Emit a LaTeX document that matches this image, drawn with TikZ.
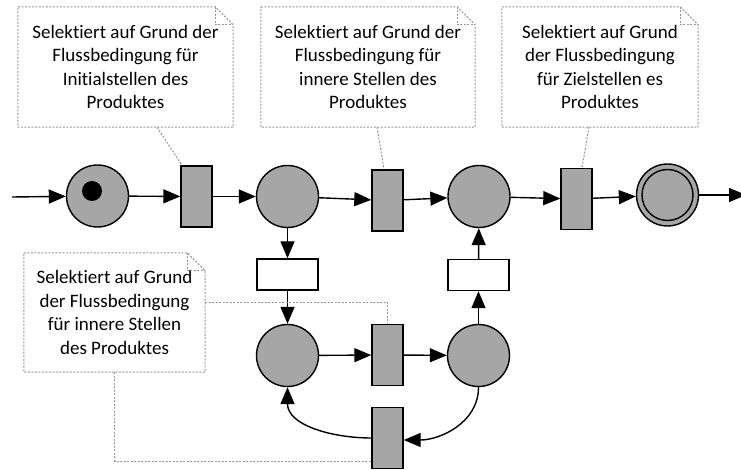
\documentclass[tikz,border=0pt]{standalone}
\usepackage{fontspec}
\setmainfont[Ligatures={NoCommon,NoContextual}]{Carlito}
\usetikzlibrary{arrows.meta}
\definecolor{pgray}{HTML}{A6A6A6}
\definecolor{ngray}{HTML}{969696}
\tikzset{
 place/.style={circle, draw=black, fill=pgray, line width=1.4pt, minimum size=62pt, inner sep=0pt},
 innerring/.style={circle, draw=black, line width=1.4pt, minimum size=51pt, inner sep=0pt},
 trans/.style={rectangle, draw=black, fill=pgray, line width=1.4pt, minimum width=31pt, minimum height=61pt, inner sep=0pt},
 wtrans/.style={rectangle, draw=black, fill=white, line width=1.4pt, minimum width=61pt, minimum height=31pt, inner sep=0pt},
 token/.style={circle, fill=black, minimum size=20pt, inner sep=0pt},
 arr/.style={line width=1.4pt, -{Triangle[length=17pt,width=14pt]}},
 notebox/.style={rectangle, draw=none, inner sep=0pt, align=center, font=\fontsize{19}{23.5}\selectfont},
 noteline/.style={draw=ngray, line width=1pt, dash pattern=on 2pt off 1.5pt},
}
\newcommand{\drawnoteshape}[1]{%
 \draw[noteline] (#1.north west) -- ([xshift=-18pt]#1.north east) -- ([yshift=-18pt]#1.north east) -- (#1.south east) -- (#1.south west) -- cycle;
 \draw[noteline] ([xshift=-18pt]#1.north east) -- ([xshift=-18pt,yshift=-18pt]#1.north east) -- ([yshift=-18pt]#1.north east);}
\begin{document}
\begin{tikzpicture}[x=1pt,y=-1pt]
\useasboundingbox (0,0) rectangle (741,470);
\node[notebox, minimum width=215pt, minimum height=120pt] (n1) at (125.5,67) {Selektiert auf Grund der\\Flussbedingung für\\Initialstellen des\\Produktes};
\node[notebox, minimum width=214pt, minimum height=120pt] (n2) at (368,67) {Selektiert auf Grund der\\Flussbedingung für\\innere Stellen des\\Produktes};
\node[notebox, minimum width=196pt, minimum height=120pt] (n3) at (600,67) {Selektiert auf Grund\\der Flussbedingung\\für Zielstellen es\\Produktes};
\node[notebox, minimum width=181pt, minimum height=119pt] (n4) at (114.5,312.5) {Selektiert auf Grund\\der Flussbedingung\\für innere Stellen\\des Produktes};
\drawnoteshape{n1}
\drawnoteshape{n2}
\drawnoteshape{n3}
\drawnoteshape{n4}
\node[place] (p1) at (97.5,196) {};
\node[token] (tok) at (92,191) {};
\node[trans] (t1) at (196.5,196.5) {};
\node[place] (p2) at (287.5,196.5) {};
\node[trans] (t2) at (387.5,200.5) {};
\node[place] (p3) at (479,196.5) {};
\node[trans] (t3) at (576.5,199) {};
\node[place] (p4) at (667.5,195) {};
\node[innerring] (p4in) at (667.5,195) {};
\node[wtrans] (r1) at (287.5,274.5) {};
\node[wtrans] (r2) at (478.5,275) {};
\node[place] (p5) at (287.5,355.5) {};
\node[trans] (t4) at (387.5,355) {};
\node[place] (p6) at (478.5,355.5) {};
\node[trans] (t5) at (387.5,438) {};
\coordinate (cin) at (12,197);
\coordinate (cout) at (746,195);
\draw[arr] (cin) -- (p1);
\draw[arr] (p1) -- (t1);
\draw[arr] (t1) -- (p2);
\draw[arr] (p2) -- (t2);
\draw[arr] (t2) -- (p3);
\draw[arr] (p3) -- (t3);
\draw[arr] (t3) -- (p4);
\draw[arr] (p4) -- (cout);
\draw[arr] (p2) -- (r1);
\draw[arr] (r1) -- (p5);
\draw[arr] (p5) -- (t4);
\draw[arr] (t4) -- (p6);
\draw[arr] (p6) -- (r2);
\draw[arr] (r2) -- (p3);
\draw[arr] (p6.south) to[out=-90,in=0] ([yshift=-2pt]t5.east);
\draw[arr] (t5.west) to[out=180,in=-90] (p5.south);
\draw[noteline] ([xshift=31.5pt]n1.south) -- ([xshift=-14.5pt]t1.north);
\draw[noteline] ([xshift=9pt]n2.south) -- ([xshift=-3.5pt]t2.north);
\draw[noteline] ([xshift=-11pt]n3.south) -- ([xshift=5.5pt]t3.north);
\draw[noteline] ([yshift=10.5pt]n4.east) -| (t4.north);
\draw[noteline] (n4.south) |- ([yshift=-23pt]t5.west);
\end{tikzpicture}
\end{document}
